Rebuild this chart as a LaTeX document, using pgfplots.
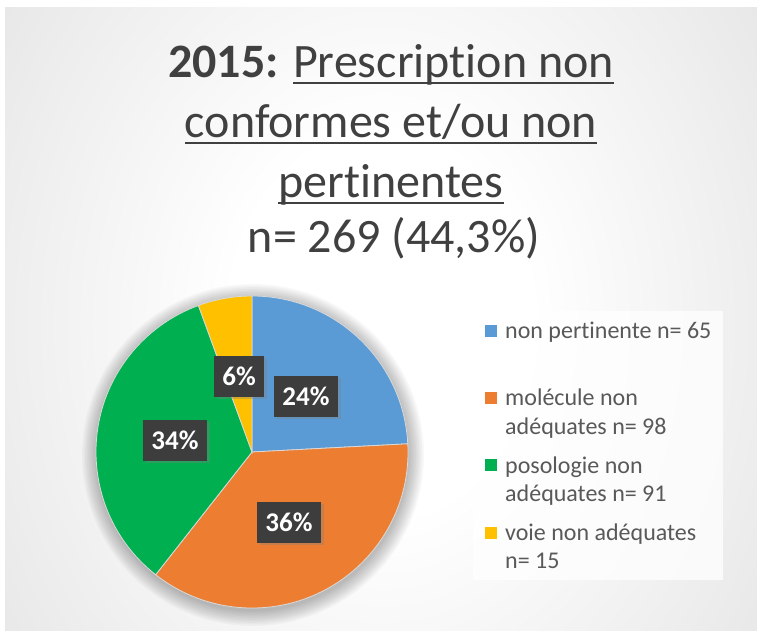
\documentclass[border=0pt]{standalone}
\usepackage{pgfplots}
\pgfplotsset{compat=1.18}
\usepackage{fontspec}
\setmainfont{Carlito}[RawFeature={-liga}]
\usetikzlibrary{shadows}
\definecolor{cblue}{HTML}{5B9BD5}
\definecolor{corange}{HTML}{ED7D31}
\definecolor{cgreen}{HTML}{00B050}
\definecolor{cyellow}{HTML}{FFC000}
\definecolor{titlecol}{HTML}{404040}
\definecolor{legcol}{HTML}{595959}
\pgfdeclareradialshading{bgshade}{\pgfpoint{0bp}{0bp}}{color(0bp)=(white); color(10bp)=(white); color(50bp)=(black!18); color(72bp)=(black!27)}
\newcommand\ul[1]{\leavevmode\setbox0\hbox{#1}\rlap{\rule[-6.5pt]{\wd0}{2pt}}\box0}
\tikzset{
  lbl/.style={fill=black!76,text=white,font=\bfseries\fontsize{27}{27}\selectfont,
    minimum width=64pt,minimum height=41pt,inner sep=0pt,
    drop shadow={shadow xshift=2.5pt,shadow yshift=-2.5pt,opacity=0.35}},
  leg/.style={anchor=base west,text=legcol,font=\fontsize{24}{28}\selectfont,inner sep=0pt},
  ttl/.style={anchor=base,text=titlecol,font=\fontsize{48}{58}\selectfont,inner sep=0pt}}
\begin{document}
\begin{tikzpicture}
% data: number of prescriptions per category
\def\vA{65}\def\vB{98}\def\vC{91}\def\vD{15}
\pgfmathsetmacro\tot{\vA+\vB+\vC+\vD}
\pgfmathsetmacro\aA{90}
\pgfmathsetmacro\aB{\aA-\vA/\tot*360}
\pgfmathsetmacro\aC{\aB-\vB/\tot*360}
\pgfmathsetmacro\aD{\aC-\vC/\tot*360}
\pgfmathsetmacro\aE{\aD-\vD/\tot*360}
\begin{axis}[width=757pt,height=631pt,scale only axis,
  xmin=0,xmax=757,ymin=0,ymax=631,y dir=reverse,hide axis,clip=false]
\fill[white] (axis cs:0,0) rectangle (axis cs:757,631);
\begin{scope}
\clip (axis cs:5,8) rectangle (axis cs:757,631);
\shade[shading=bgshade] (axis cs:5,-150) rectangle (axis cs:757,800);
\end{scope}
% soft shadow around pie
\pgfplotsinvokeforeach{1,...,10}{
  \fill[black,opacity=0.028] (axis cs:253,455) circle[radius={155pt+#1*1.6pt}];
}
% pie sectors
\filldraw[fill=cblue,draw=white!85!black,line width=0.8pt] (axis cs:252,452) -- ++(\aA:156pt) arc[start angle=\aA,end angle=\aB,radius=156pt] -- cycle;
\filldraw[fill=corange,draw=white!85!black,line width=0.8pt] (axis cs:252,452) -- ++(\aB:156pt) arc[start angle=\aB,end angle=\aC,radius=156pt] -- cycle;
\filldraw[fill=cgreen,draw=white!85!black,line width=0.8pt] (axis cs:252,452) -- ++(\aC:156pt) arc[start angle=\aC,end angle=\aD,radius=156pt] -- cycle;
\filldraw[fill=cyellow,draw=white!85!black,line width=0.8pt] (axis cs:252,452) -- ++(\aD:156pt) arc[start angle=\aD,end angle=\aE,radius=156pt] -- cycle;
% data labels
\node[lbl] at (axis cs:306,396) {24\%};
\node[lbl] at (axis cs:289,522) {36\%};
\node[lbl,minimum width=64pt] at (axis cs:175,440) {34\%};
\node[lbl,minimum width=50pt] at (axis cs:239,376) {6\%};
% title
\node[ttl] at (axis cs:391,78) {\textbf{2015:} \ul{Prescription non}};
\node[ttl] at (axis cs:391,138) {\ul{conformes et/ou non}};
\node[ttl] at (axis cs:391,197) {\ul{pertinentes}};
\node[ttl] at (axis cs:394,252) {n= 269 (44,3\%)};
% legend
\fill[white,opacity=0.75] (axis cs:473,311) rectangle (axis cs:723,580);
\fill[cblue] (axis cs:485,325) rectangle (axis cs:497,337);
\fill[corange] (axis cs:485,392) rectangle (axis cs:497,404);
\fill[cgreen] (axis cs:485,459) rectangle (axis cs:497,471);
\fill[cyellow] (axis cs:485,527) rectangle (axis cs:497,539);
\node[leg] at (axis cs:505,338) {non pertinente n= 65};
\node[leg] at (axis cs:505,405) {molécule non};
\node[leg] at (axis cs:505,434) {adéquates n= 98};
\node[leg] at (axis cs:505,473) {posologie non};
\node[leg] at (axis cs:505,501) {adéquates n= 91};
\node[leg] at (axis cs:505,540) {voie non adéquates};
\node[leg] at (axis cs:505,568) {n= 15};
\end{axis}
\end{tikzpicture}
\end{document}
